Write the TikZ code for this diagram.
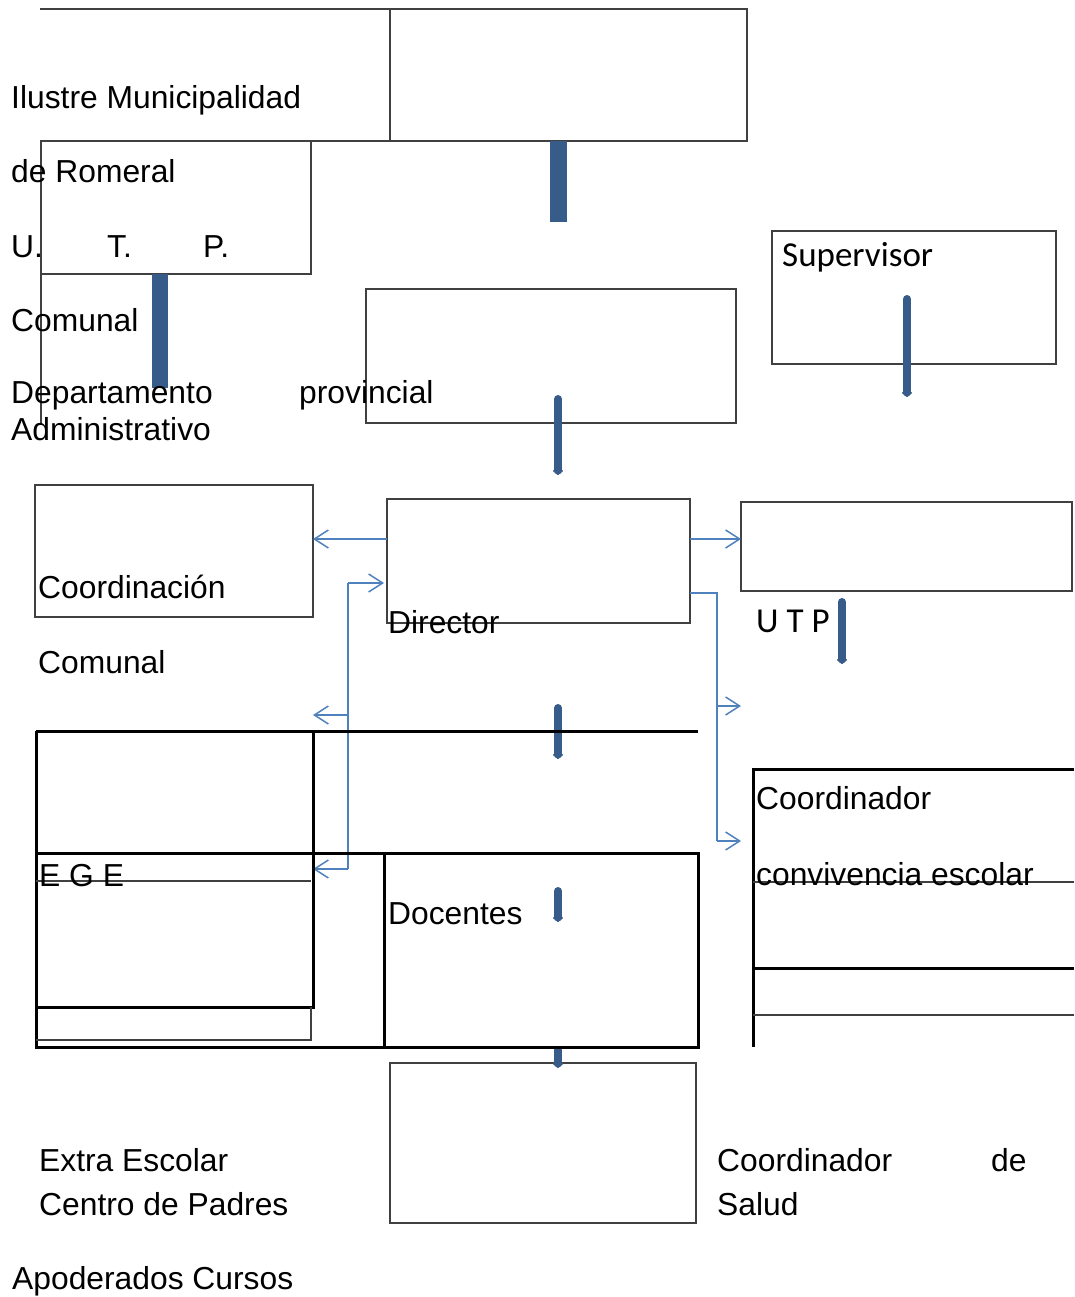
\documentclass[tikz,border=0pt]{standalone}
\usepackage{fontspec}
\setmainfont{Liberation Sans}
\newfontfamily\calfont{Carlito}
\usetikzlibrary{arrows.meta}
\definecolor{barblue}{RGB}{56,92,138}
\definecolor{linkblue}{RGB}{79,129,189}

\tikzset{
  thinframe/.style={draw=black!75, line width=1.2pt},
  boxnode/.style={thinframe, anchor=north west, inner sep=0pt, outer sep=0pt},
  heavyline/.style={draw=black, line width=3pt},
  txt/.style={anchor=base west, inner sep=0pt, font=\fontsize{31.8}{36}\selectfont},
  caltxt/.style={anchor=base west, inner sep=0pt, font=\calfont\fontsize{35}{40}\selectfont},
  bluebar/.style={fill=barblue},
  fatarrow/.style={draw=barblue, line width=8pt, line cap=round, -{Triangle[length=5pt,width=12pt,round]}},
  linkarrow/.style={draw=linkblue, line width=1.5pt, -{Straight Barb[length=14pt,width=18pt]}},
  linkline/.style={draw=linkblue, line width=1.5pt}
}

\begin{document}
\begin{tikzpicture}[x=1pt,y=-1pt]
 \useasboundingbox (0,0) rectangle (1074,1297);

 % boxes
 \node[boxnode, minimum width=357pt, minimum height=132pt] (muni) at (390,9) {};
 \node[boxnode, minimum width=270pt, minimum height=133pt] (utpcom) at (41,141) {};
 \node[boxnode, minimum width=370pt, minimum height=134pt] (prov) at (366,289) {};
 \node[boxnode, minimum width=284pt, minimum height=133pt] (super) at (772,231) {};
 \node[boxnode, minimum width=278pt, minimum height=132pt] (coord) at (35,485) {};
 \node[boxnode, minimum width=303pt, minimum height=124pt] (director) at (387,499) {};
 \node[boxnode, minimum width=331pt, minimum height=89pt] (utp) at (741,502) {};
 \node[boxnode, minimum width=306pt, minimum height=160pt] (padres) at (390,1063) {};

 \draw[thinframe] (40,9) -- (muni.north west);
 \draw[thinframe] (40,141) -- (muni.south west);
 \draw[thinframe] (utpcom.south west) -- (41,425);

 % bars
 \fill[bluebar] (550,141) rectangle (567,222);
 \fill[bluebar] (152,274) rectangle (168,388);

 % thick arrows
 \draw[fatarrow] (558,399) -- (558,475);
 \draw[fatarrow] (907,299) -- (907,397);
 \draw[fatarrow] (842,602) -- (842,664);
 \draw[fatarrow] (558,708) -- (558,759);
 \draw[fatarrow] (558,891) -- (558,922);
 \draw[fatarrow] (558,1050) -- (558,1068);

 % blue links
 \coordinate (jl) at (348,583);
 \coordinate (jr) at (717,593);
 \draw[linkarrow] (director.west |- 0,539) -- (coord.east |- 0,539);
 \draw[linkarrow] (director.east |- 0,539) -- (utp.west |- 0,539);
 \draw[linkarrow] (jl) -- (384,583);
 \draw[linkline] (jl) -- (348,869);
 \draw[linkarrow] (348,715) -- (313,715);
 \draw[linkarrow] (348,869) -- (313,869);
 \draw[linkline] (director.east |- jr) -- (jr) -- (717,841);
 \draw[linkarrow] (717,706) -- (741,706);
 \draw[linkarrow] (717,841) -- (741,841);

 % heavy frames
 \draw[heavyline] (36,731) -- (698,731);
 \draw[heavyline] (36,731) -- (36,1047) -- (698,1047) -- (698,853) -- (36,853);
 \draw[heavyline] (313,731) -- (313,1007) -- (36,1007);
 \draw[heavyline] (384,853) -- (384,1047);
 \draw[thinframe] (36,881) -- (311,881);
 \draw[thinframe] (311,1007) -- (311,1040) -- (36,1040);
 \draw[heavyline] (1074,769) -- (753,769) -- (753,1047);
 \draw[heavyline] (753,968) -- (1074,968);
 \draw[thinframe] (753,1015) -- (1074,1015);
 \draw[thinframe] (753,882) -- (1074,882);

 % texts
 \node[txt] (t1) at (11,109) {Ilustre Municipalidad};
 \node[txt] (t2) at (11,183) {de Romeral};
 \node[txt] (t3) at (11,257) {U.};
 \node[txt] (t4) at (107,257) {T.};
 \node[txt] (t5) at (203,257) {P.};
 \node[txt] (t6) at (11,331) {Comunal};
 \node[txt] (t7) at (11,403) {Departamento};
 \node[txt] (t8) at (299,403) {provincial};
 \node[txt] (t9) at (11,440) {Administrativo};
 \node[caltxt] (t10) at (782,266) {Supervisor};
 \node[txt] (t11) at (38,598) {Coordinación};
 \node[txt] (t12) at (388,633) {Director};
 \node[caltxt] (t13) at (756,632) {U T P};
 \node[txt] (t14) at (38,673) {Comunal};
 \node[txt] (t15) at (756,809) {Coordinador};
 \node[txt] (t16) at (39,886) {E G E};
 \node[txt] (t17) at (756,885) {convivencia escolar};
 \node[txt] (t18) at (388,924) {Docentes};
 \node[txt] (t19) at (39,1171) {Extra Escolar};
 \node[txt] (t20) at (39,1215) {Centro de Padres};
 \node[txt] (t21) at (717,1171) {Coordinador};
 \node[txt] (t22) at (991,1171) {de};
 \node[txt] (t23) at (717,1215) {Salud};
 \node[txt] (t24) at (12,1289) {Apoderados Cursos};
\end{tikzpicture}
\end{document}
